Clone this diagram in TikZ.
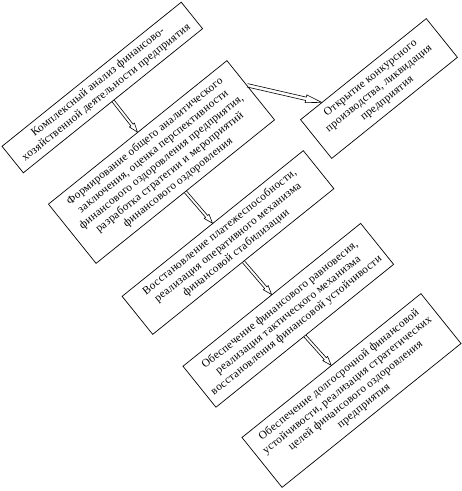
\documentclass[tikz,border=0pt]{standalone}
\usepackage{fontspec}
\setmainfont{Liberation Serif}[LetterSpace=2.5]
\usetikzlibrary{calc}
\tikzset{
  boxnode/.style={draw, line width=0.7pt, rotate=38.8, inner sep=0pt, align=center,
    font=\fontsize{11.3}{13.2}\selectfont},
  arr/.style={draw, line width=0.6pt, line join=miter},
}
% start, end, shaft half width, head half width, head length
\newcommand\blockarr[5]{%
  \coordinate (ba-s) at (#1);
  \coordinate (ba-e) at (#2);
  \coordinate (ba-h) at ($(ba-e)!#5!(ba-s)$);
  \draw[arr] ($(ba-s)!#3!90:(ba-e)$) -- ($(ba-h)!#3!90:(ba-e)$) -- ($(ba-h)!#4!90:(ba-e)$)
    -- (ba-e) -- ($(ba-h)!#4!-90:(ba-e)$) -- ($(ba-h)!#3!-90:(ba-e)$) -- ($(ba-s)!#3!-90:(ba-e)$);
}
\begin{document}
\begin{tikzpicture}[x=1pt,y=1pt]
\useasboundingbox (0,0) rectangle (462,-491);

\node[boxnode, minimum width=230pt, minimum height=34pt] (b1) at (102.3,-87.5)
  {Комплексный анализ финансово-\\хозяйственной деятельности предприятия};

\node[boxnode, minimum width=229pt, minimum height=76pt] (b2) at (161.5,-162)
  {Формирование общего аналитического\\заключения, оценка перспективности\\финансового оздоровления предприятия,\\разработка стратегии и мероприятий\\финансового оздоровления};

\node[boxnode, minimum width=232.5pt, minimum height=48.8pt] (b3) at (228,-242.5)
  {Восстановление платежеспособности,\\реализация оперативного механизма\\финансовой стабилизации};

\node[boxnode, minimum width=228pt, minimum height=52.6pt] (b4) at (288.3,-315.3)
  {Обеспечение финансового равновесия,\\реализация тактического механизма\\восстановления финансовой устойчивости};

\node[boxnode, minimum width=229.6pt, minimum height=64pt] (b5) at (351.5,-390.5)
  {Обеспечение долгосрочной финансовой\\устойчивости, реализация стратегических\\целей финансового оздоровления\\предприятия};

\node[boxnode, minimum width=161.3pt, minimum height=49.7pt] (b6) at (379,-88.5)
  {Открытие конкурсного\\производства, ликвидация\\предприятия};

\blockarr{b1.south}{b2.north}{1.4pt}{3.2pt}{9pt}
\blockarr{b2.south}{b3.north}{1.4pt}{3.2pt}{9pt}
\blockarr{b3.south}{b4.north}{1.4pt}{3.2pt}{9pt}
\blockarr{b4.south}{b5.north}{1.4pt}{3.2pt}{9pt}
\blockarr{$(b2.north east)!0.42!(b2.south east)$}{$(b6.north west)!0.17!(b6.north east)$}{1.7pt}{4pt}{16pt}
\end{tikzpicture}
\end{document}
